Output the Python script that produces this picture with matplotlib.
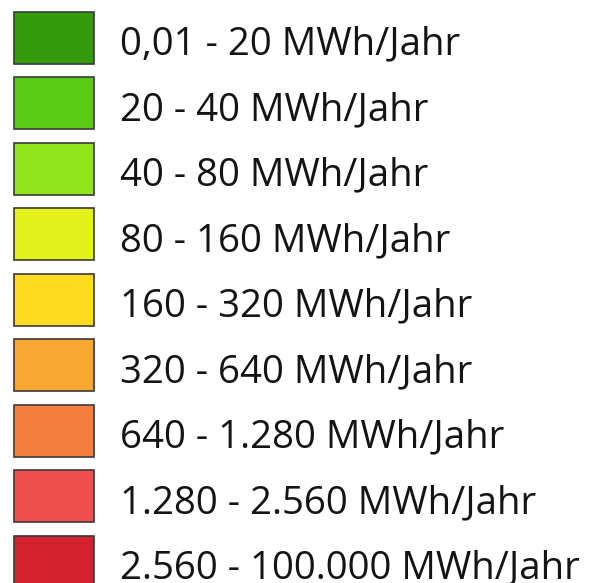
import matplotlib
matplotlib.use("Agg")
import matplotlib.pyplot as plt

# legend classes (heat demand per year)
labels = [
    "0,01 - 20 MWh/Jahr",
    "20 - 40 MWh/Jahr",
    "40 - 80 MWh/Jahr",
    "80 - 160 MWh/Jahr",
    "160 - 320 MWh/Jahr",
    "320 - 640 MWh/Jahr",
    "640 - 1.280 MWh/Jahr",
    "1.280 - 2.560 MWh/Jahr",
    "2.560 - 100.000 MWh/Jahr",
]
colors = [
    "#349a0e", "#5bcb15", "#91e31b", "#e3f21d", "#fedb1f",
    "#f8a733", "#f47f3f", "#f04f4f", "#d3222f",
]

plt.rcParams["font.family"] = ["Open Sans", "DejaVu Sans"]

fig = plt.figure(figsize=(5.89, 5.83), dpi=100)
ax = fig.add_axes([0, 0, 1, 1])

rows = list(range(len(labels)))
ax.barh(rows, 80, left=14, height=0.794, color=colors,
        edgecolor="#3a3a3a", linewidth=1.2)

for i, lab in enumerate(labels):
    ax.text(120, i + 0.03, lab, fontsize=27.6, va="center_baseline", ha="left",
            color="#141414")

ax.set_xlim(0, 589)
ax.set_ylim(8.321, -0.580)
ax.axis("off")

fig.savefig("out.png", dpi=100)
